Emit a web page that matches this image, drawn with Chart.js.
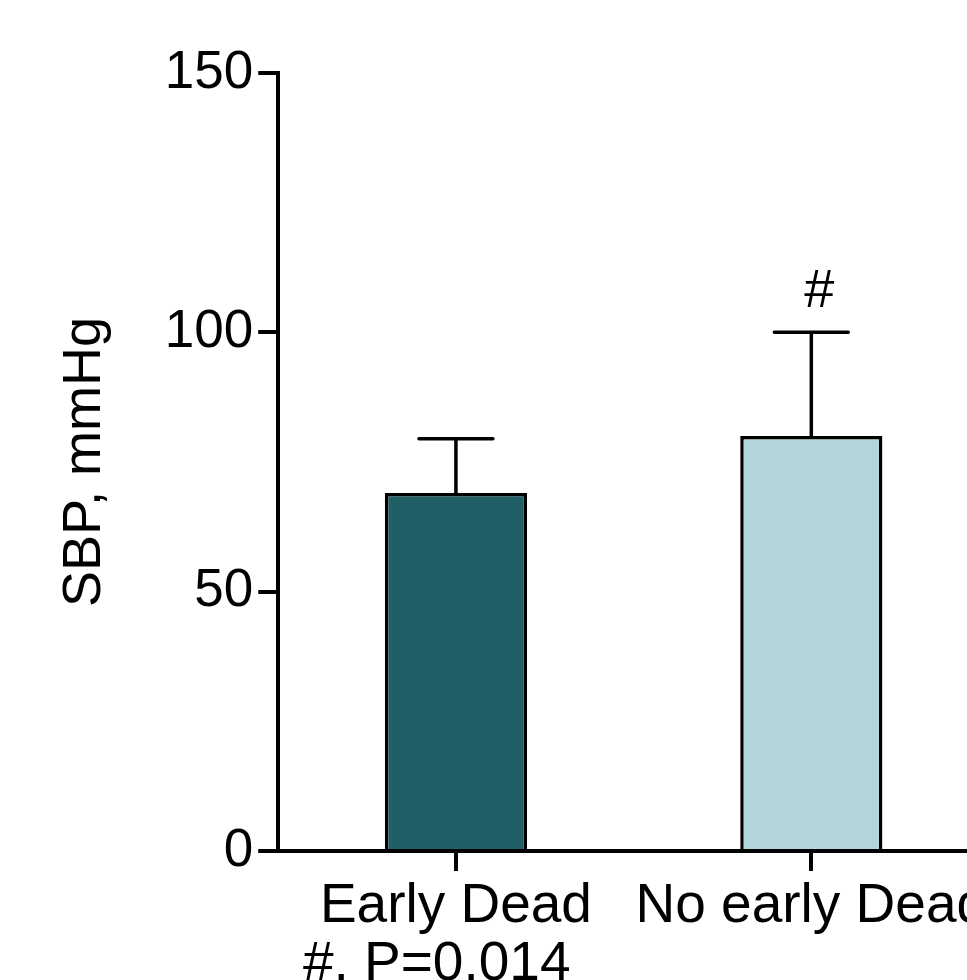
<!DOCTYPE html>
<html>
<head>
<meta charset="utf-8">
<script src="https://cdn.jsdelivr.net/npm/chart.js@4/dist/chart.umd.min.js"></script>
<style>
  html, body { margin: 0; padding: 0; background: #fff; overflow: hidden; }
  #wrap { width: 967px; height: 980px; overflow: hidden; }
</style>
</head>
<body>
<div id="wrap"><canvas id="sbpChart" width="1000" height="980"></canvas></div>
<script>
const groups = ['Early Dead', 'No early Dead'];
const sbpMean = [69, 80];
const sbpSd = [10.5, 20];
const sigMarks = ['', '#'];
const barColors = ['#215f66', '#b2d6dc'];
const yTicks = [0, 50, 100, 150];
const footNote = '#, P=0.014';

const FONT = '"Liberation Sans", Arial, Helvetica, sans-serif';

const errorBars = {
  id: 'errorBars',
  afterDatasetsDraw(chart) {
    const ctx = chart.ctx;
    const y = chart.scales.y;
    const meta = chart.getDatasetMeta(0);
    ctx.save();
    ctx.strokeStyle = '#000';
    ctx.lineWidth = 3.5;
    ctx.lineCap = 'round';
    meta.data.forEach((bar, i) => {
      const top = y.getPixelForValue(sbpMean[i] + sbpSd[i]);
      const base = y.getPixelForValue(sbpMean[i]);
      const half = bar.width * 0.26;
      ctx.beginPath();
      ctx.moveTo(bar.x, base);
      ctx.lineTo(bar.x, top);
      ctx.moveTo(bar.x - half, top);
      ctx.lineTo(bar.x + half, top);
      ctx.stroke();
      if (sigMarks[i]) {
        ctx.fillStyle = '#000';
        ctx.font = '54px ' + FONT;
        ctx.textAlign = 'center';
        ctx.textBaseline = 'alphabetic';
        ctx.fillText(sigMarks[i], bar.x + 8, top - 25);
      }
    });
    ctx.restore();
  },
  afterDraw(chart) {
    const ctx = chart.ctx;
    const x = chart.scales.x;
    ctx.save();
    ctx.fillStyle = '#000';
    ctx.font = '55px ' + FONT;
    ctx.textAlign = 'left';
    ctx.textBaseline = 'alphabetic';
    ctx.fillText(footNote, x.getPixelForValue(0) - 153, 980);
    ctx.restore();
  }
};

new Chart(document.getElementById('sbpChart'), {
  type: 'bar',
  data: {
    labels: groups,
    datasets: [{
      data: sbpMean,
      backgroundColor: barColors,
      borderColor: '#000',
      borderWidth: 3.5,
      borderSkipped: 'start',
      barPercentage: 0.4,
      categoryPercentage: 1
    }]
  },
  plugins: [errorBars],
  options: {
    responsive: false,
    devicePixelRatio: 1,
    animation: false,
    layout: { padding: { left: 0, top: 73, right: 11, bottom: 37 } },
    plugins: { legend: { display: false }, tooltip: { enabled: false } },
    scales: {
      x: {
        type: 'category',
        offset: true,
        grid: { offset: false, drawOnChartArea: false, drawTicks: true, tickLength: 20, color: '#000', lineWidth: 4 },
        border: { display: true, color: '#000', width: 4 },
        ticks: { color: '#000', font: { family: FONT, size: 55 }, padding: 3, maxRotation: 0 }
      },
      y: {
        min: 0,
        max: 150,
        afterBuildTicks(scale) { scale.ticks = yTicks.map(v => ({ value: v })); },
        grid: { drawOnChartArea: false, drawTicks: true, tickLength: 20, color: '#000', lineWidth: 4 },
        border: { display: true, color: '#000', width: 4 },
        ticks: { color: '#000', font: { family: FONT, size: 53 }, padding: 5 },
        title: {
          display: true,
          text: 'SBP, mmHg',
          color: '#000',
          font: { family: FONT, size: 54 },
          padding: { top: 53, bottom: 42 }
        }
      }
    }
  }
});
</script>
</body>
</html>
